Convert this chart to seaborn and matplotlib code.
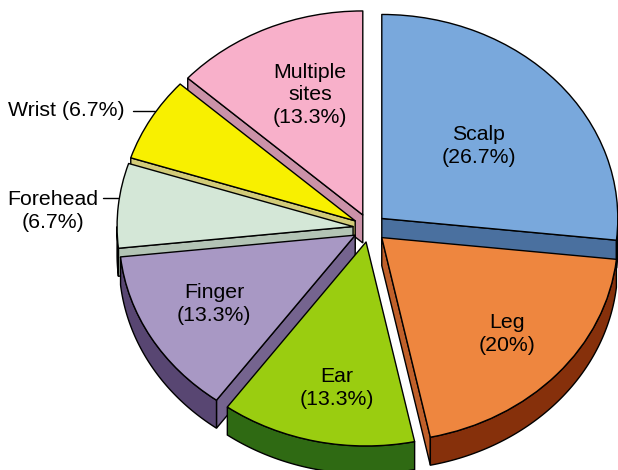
import numpy as np
import matplotlib
matplotlib.use("Agg")
import matplotlib.pyplot as plt
import seaborn as sns

# Data
sites = ["Scalp", "Leg", "Ear", "Finger", "Forehead", "Wrist", "Multiple sites"]
shares = [26.7, 20, 13.3, 13.3, 6.7, 6.7, 13.3]
label_texts = ["Scalp\n(26.7%)", "Leg\n(20%)", "Ear\n(13.3%)", "Finger\n(13.3%)",
               "Forehead\n(6.7%)", "Wrist (6.7%)", "Multiple\nsites\n(13.3%)"]

# Face colours
top_colors = ["#79a8dc", "#ee863f", "#9acd10", "#a898c4", "#d4e7d7", "#f8f000", "#f8b0ca"]
cut_colors = ["#4a709f", "#c0602a", "#6f9a0c", "#75648f", "#b3c4b5", "#d2cb78", "#cb92a8"]
rim_colors = ["#2c4a72", "#86300b", "#2f6a13", "#584672", "#7d8f80", "#a09a50", "#a06f82"]

# Back slices first
draw_order = [6, 5, 4, 0, 3, 1, 2]

W, H = 618, 470
CX, CY = 369.5, 228    # pie centre in pixels
RX, RY = 236, 204      # pie radius in pixels, tilted
DEPTH = 28 / RY

sns.set_theme(style="white")
plt.rcParams["font.family"] = ["Liberation Sans", "DejaVu Sans"]

fig = plt.figure(figsize=(W / 100, H / 100), dpi=100)
ax = fig.add_axes([0, 0, 1, 1])

wedges, _ = ax.pie(shares, explode=[0.07] * len(shares), colors=sns.color_palette(top_colors),
                   startangle=90, counterclock=False,
                   wedgeprops=dict(edgecolor="black", linewidth=1.0, joinstyle="round"))

# Pie forces equal aspect, the tilt needs a squashed one
ax.set_aspect("auto")
ax.set_xlim(-CX / RX, (W - CX) / RX)
ax.set_ylim((CY - H) / RY, CY / RY)


def cut_face(w, deg):
    a = np.radians(deg)
    cx, cy = w.center
    ex, ey = cx + w.r * np.cos(a), cy + w.r * np.sin(a)
    return [cx, ex, ex, cx], [cy, ey, ey - DEPTH, cy - DEPTH]


def rim_face(w, lo, hi):
    a = np.radians(np.linspace(lo, hi, 80))
    xs = w.center[0] + w.r * np.cos(a)
    ys = w.center[1] + w.r * np.sin(a)
    return np.r_[xs, xs[::-1]], np.r_[ys, ys[::-1] - DEPTH]


# Sides of every slice, drawn under its own top face
for rank, i in enumerate(draw_order):
    w = wedges[i]
    z = 2 + rank
    w.set_zorder(z + 0.5)
    style = dict(edgecolor="black", linewidth=1.0, zorder=z)
    if np.cos(np.radians(w.theta1)) > 1e-6:
        ax.fill(*cut_face(w, w.theta1), facecolor=cut_colors[i], **style)
    if np.cos(np.radians(w.theta2)) < -1e-6:
        ax.fill(*cut_face(w, w.theta2), facecolor=cut_colors[i], **style)
    # Only the part of the rim that faces down is seen
    for lo, hi in [(-180, 0), (-540, -360)]:
        a, b = max(w.theta1, lo), min(w.theta2, hi)
        if b > a:
            ax.fill(*rim_face(w, a, b), facecolor=rim_colors[i], **style)


def put_label(text, x, y):
    fig.text(x / W, 1 - y / H, text, ha="center", va="center", fontsize=15.3,
             color="black", linespacing=1.22, zorder=20)


label_spots = [(479, 146), (507, 334), (337, 388), (214, 304), (53, 211), (66, 110), (310, 95)]
for text, (x, y) in zip(label_texts, label_spots):
    put_label(text, x, y)

# Leader lines of the two outside labels
for x0, x1, y in [(133, 155, 111), (103, 118, 198)]:
    fig.add_artist(plt.Line2D([x0 / W, x1 / W], [1 - y / H, 1 - y / H], color="black", linewidth=1.0))

fig.savefig("out.png", dpi=100)
